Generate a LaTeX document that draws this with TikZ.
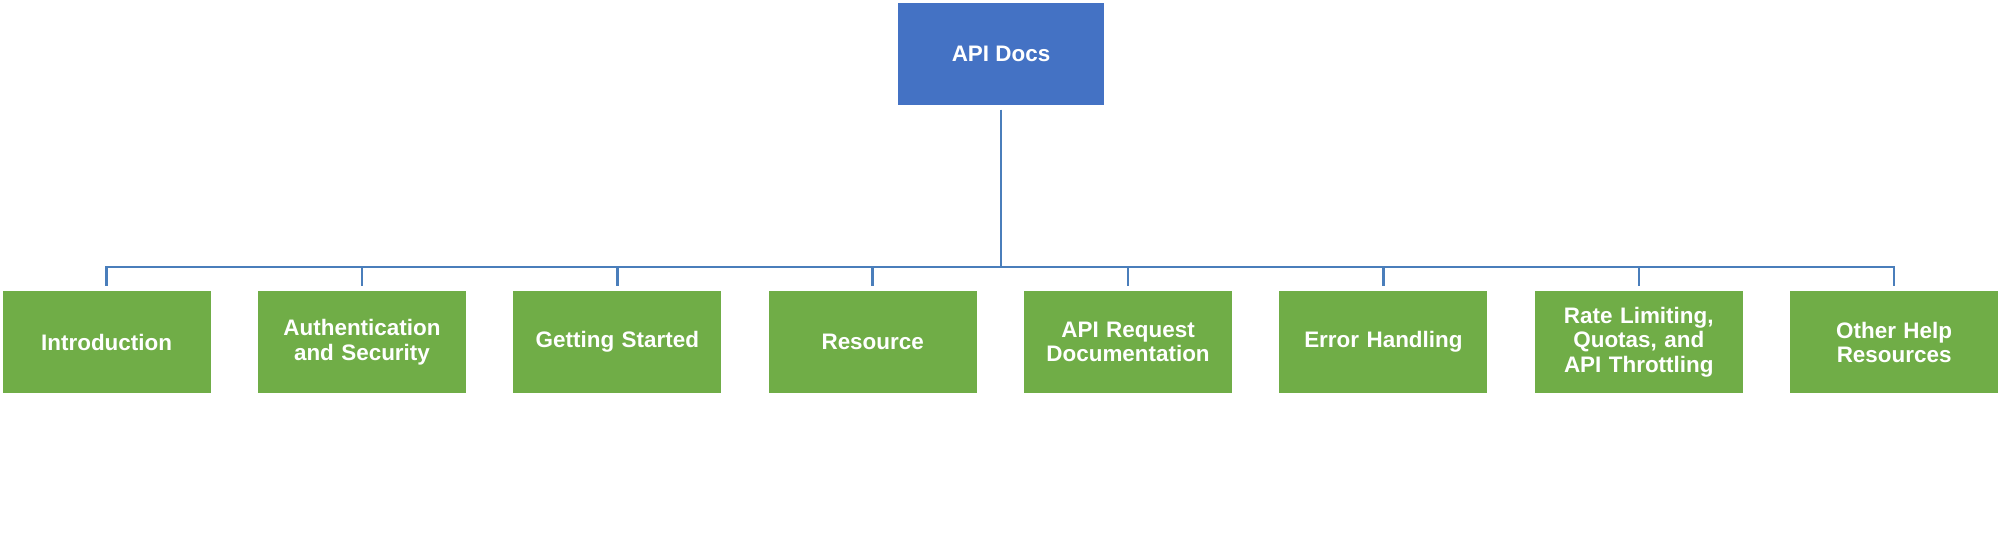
\documentclass[tikz,border=0pt]{standalone}
\usepackage{fontspec}
\setmainfont{Liberation Sans}
\usetikzlibrary{backgrounds}
\pgfdeclarelayer{edgelayer}
\pgfdeclarelayer{nodelayer}
\pgfsetlayers{edgelayer,nodelayer,main}
\definecolor{rootblue}{HTML}{4472C4}
\definecolor{leafgreen}{HTML}{70AD47}
\definecolor{linkblue}{HTML}{4A7EBB}
\tikzset{font=\fontsize{10}{10.8}\selectfont\bfseries}
\tikzstyle{none}=[inner sep=0pt]
\tikzstyle{root}=[fill=rootblue,text=white,minimum width=3.24cm,minimum height=1.6cm,inner sep=0pt]
\tikzstyle{leaf}=[fill=leafgreen,text=white,minimum width=3.26cm,minimum height=1.6cm,text width=3.26cm,align=center,inner sep=0pt]
\tikzstyle{link}=[draw=linkblue,line width=1.1pt]

\begin{document}
\begin{tikzpicture}[x=0.02cm,y=-0.02cm]
	\useasboundingbox (0,0) rectangle (1568,419);
	\begin{pgfonlayer}{nodelayer}
		\node [style=root] (0) at (784, 42) {API Docs};
		\node [style=none] (bus) at (784, 209) {};
		\node [style=leaf] (1) at (83.5, 268) {Introduction};
		\node [style=leaf] (2) at (283.5, 268) {Authentication and Security};
		\node [style=leaf] (3) at (483.5, 268) {Getting Started};
		\node [style=leaf] (4) at (683.5, 268) {Resource};
		\node [style=leaf] (5) at (883.5, 268) {API Request Documentation};
		\node [style=leaf] (6) at (1083.5, 268) {Error Handling};
		\node [style=leaf] (7) at (1283.5, 268) {Rate Limiting, Quotas, and API Throttling};
		\node [style=leaf] (8) at (1483.5, 268) {Other Help Resources};
	\end{pgfonlayer}
	\begin{pgfonlayer}{edgelayer}
		\draw [style=link] ([yshift=-2pt]0.south) -- (bus.center);
		\foreach \n in {1,...,8}
			\draw [style=link] (bus.center) -| ([yshift=2pt]\n.north);
	\end{pgfonlayer}
\end{tikzpicture}
\end{document}
